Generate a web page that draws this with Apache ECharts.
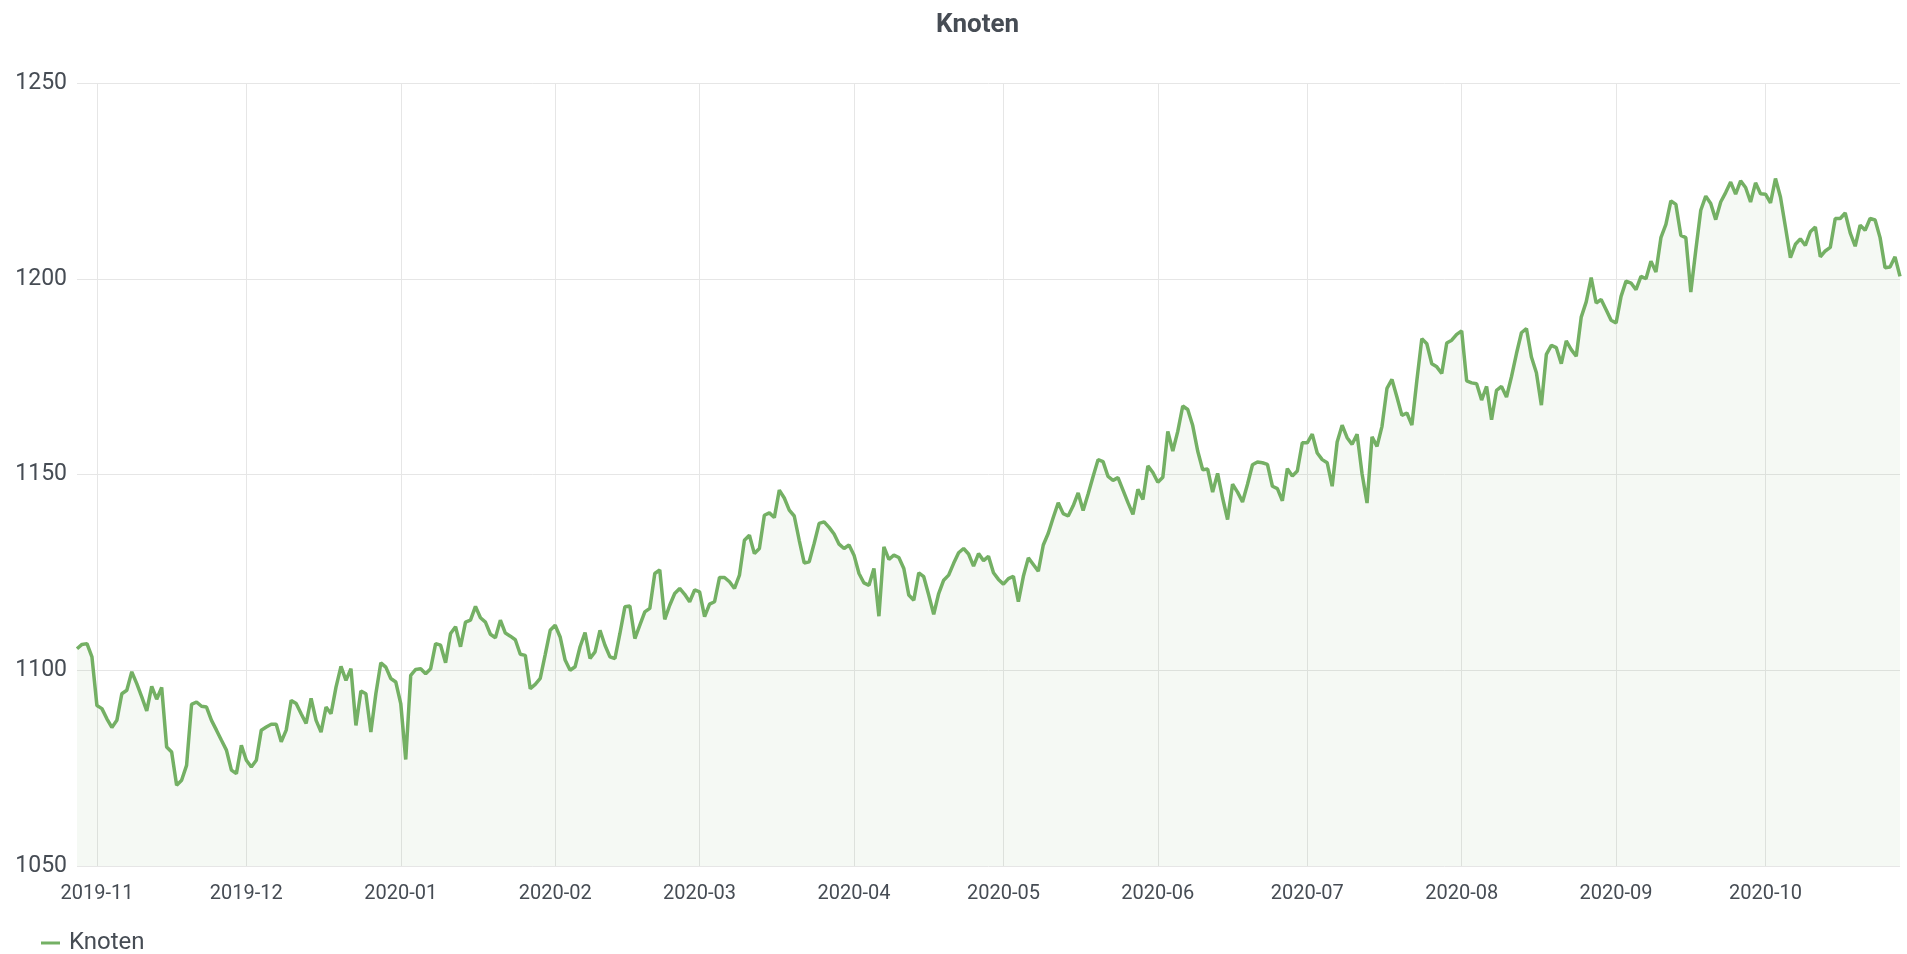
<!DOCTYPE html>
<html>
<head>
<meta charset="UTF-8">
<title>Knoten</title>
<script type="text/javascript" src="https://cdn.jsdelivr.net/npm/echarts@6/dist/echarts.min.js"></script>
<style>
  html, body { margin: 0; padding: 0; background: #fff; }
</style>
</head>
<body>
    <div id="main" style="width: 1907px;height:954px;"></div>
    <script type="text/javascript">
    // daily values, first day 2019-10-28
    var startDate = [2019, 9, 28];
    var oct2019 = [1105.5, 1106.6, 1106.8, 1103.4];
    var nov2019 = [1091, 1090.2, 1087.6, 1085.4, 1087.2, 1094, 1094.9, 1099.6, 1096.6, 1093.2,
                   1089.6, 1095.9, 1092.6, 1095.6, 1080.4, 1079.1, 1070.6, 1071.9, 1075.7, 1091.3,
                   1091.9, 1090.8, 1090.6, 1087.2, 1084.7, 1082.1, 1079.6, 1074.5, 1073.6, 1080.8];
    var dec2019 = [1077, 1075.3, 1077, 1084.7, 1085.5, 1086.2, 1086.2, 1081.7, 1084.7, 1092.3,
                   1091.5, 1088.9, 1086.4, 1092.8, 1087.2, 1084.2, 1090.6, 1088.9, 1095.7, 1101,
                   1097.4, 1100.4, 1085.9, 1094.7, 1094, 1084.2, 1094, 1101.9, 1100.8, 1097.9, 1097];
    var jan2020 = [1091.5, 1077.2, 1098.7, 1100.2, 1100.4, 1099.1, 1100.4, 1106.8, 1106.4, 1101.9,
                   1109.4, 1111.1, 1106, 1112.3, 1112.8, 1116.3, 1113.4, 1112.3, 1109.2, 1108.3,
                   1112.8, 1109.5, 1108.7, 1107.8, 1104.1, 1103.8, 1095.3, 1096.4, 1097.9, 1104, 1110.2];
    var feb2020 = [1111.5, 1108.5, 1102.6, 1100, 1100.9, 1106, 1109.6, 1103, 1104.7, 1110.2,
                   1106.4, 1103.4, 1103, 1109.4, 1116.2, 1116.4, 1108.1, 1111.5, 1114.9, 1115.8,
                   1124.7, 1125.6, 1113, 1116.6, 1119.6, 1120.9, 1119.4, 1117.5, 1120.5];
    var mar2020 = [1120, 1113.7, 1116.9, 1117.5, 1123.7, 1123.7, 1122.6, 1120.9, 1124.3, 1133.2,
                   1134.5, 1129.8, 1131.1, 1139.6, 1140.2, 1139, 1146, 1144, 1140.9, 1139.4,
                   1133.2, 1127.4, 1127.7, 1132.4, 1137.5, 1137.9, 1136.5, 1134.8, 1132.2, 1131.1, 1132];
    var apr2020 = [1129.4, 1124.7, 1122.3, 1121.7, 1126, 1113.8, 1131.5, 1128.3, 1129.4, 1128.8,
                   1126, 1119.2, 1117.9, 1124.9, 1123.9, 1119.2, 1114.3, 1119.6, 1123, 1124.3,
                   1127.3, 1130, 1131.1, 1129.7, 1126.6, 1129.8, 1128, 1129.1, 1124.9, 1123.2];
    var may2020 = [1122, 1123.4, 1124, 1117.5, 1124, 1128.7, 1127, 1125.3, 1132, 1135,
                   1139, 1142.8, 1140, 1139.4, 1142, 1145.3, 1140.8, 1145, 1149.5, 1153.8,
                   1153.3, 1149.5, 1148.5, 1149.2, 1146, 1142.8, 1139.8, 1146.2, 1143.6, 1152.2, 1150.5];
    var jun2020 = [1148, 1149.3, 1161, 1156, 1161, 1167.5, 1166.6, 1162.5, 1156, 1151.2,
                   1151.4, 1145.5, 1150.3, 1144, 1138.5, 1147.5, 1145.5, 1143, 1147.5, 1152.5,
                   1153.2, 1153, 1152.6, 1147, 1146.4, 1143.3, 1151.5, 1149.6, 1150.9, 1158.1];
    var jul2020 = [1158.1, 1160.3, 1155.5, 1153.8, 1153, 1147, 1158.3, 1162.6, 1159.4, 1157.7,
                   1160.3, 1150.2, 1142.7, 1159.6, 1157.2, 1162.3, 1172, 1174.3, 1169.8, 1165.1,
                   1165.7, 1162.6, 1174, 1184.7, 1183.4, 1178.3, 1177.5, 1175.8, 1183.6, 1184.3, 1185.8];
    var aug2020 = [1186.7, 1173.9, 1173.4, 1173.2, 1169, 1172.5, 1164, 1171.5, 1172.5, 1169.8,
                   1175, 1180.9, 1186.2, 1187.3, 1180, 1176, 1167.7, 1180.7, 1183, 1182.4,
                   1178.3, 1184.1, 1181.9, 1180.2, 1190.2, 1194.1, 1200.3, 1193.8, 1194.7, 1192.1, 1189.4];
    var sep2020 = [1188.7, 1195.5, 1199.4, 1198.9, 1197.2, 1200.6, 1200, 1204.5, 1201.7, 1210.5,
                   1213.9, 1219.9, 1219, 1211.1, 1210.5, 1196.6, 1207.3, 1217.5, 1221.1, 1219.2,
                   1215.1, 1219.6, 1222, 1224.7, 1221.6, 1225, 1223.3, 1219.6, 1224.5, 1221.7];
    var oct2020 = [1221.6, 1219.4, 1225.6, 1220.9, 1213.2, 1205.4, 1208.8, 1210.2, 1208.5, 1212,
                   1213.2, 1205.6, 1207.1, 1208, 1215.4, 1215.4, 1216.8, 1211.7, 1208.3, 1213.7,
                   1212.4, 1215.4, 1215, 1210.5, 1202.8, 1203, 1205.6, 1200.6];

    var yTicks = [1050, 1100, 1150, 1200, 1250];

    var values = [].concat(oct2019, nov2019, dec2019, jan2020, feb2020, mar2020, apr2020,
                           may2020, jun2020, jul2020, aug2020, sep2020, oct2020);
    var dates = values.map(function (v, i) {
        var d = new Date(Date.UTC(startDate[0], startDate[1], startDate[2] + i));
        return d.toISOString().slice(0, 10);
    });

    function isMonthStart(index, value) {
        return value.slice(8, 10) === '01';
    }

    var myChart = echarts.init(document.getElementById('main'));
    var option = {
        backgroundColor: '#ffffff',
        animation: false,
        title: {
            text: 'Knoten',
            left: 931,
            top: 7,
            textStyle: { fontFamily: 'Roboto', fontSize: 26, fontWeight: 'bold', color: '#464c54' }
        },
        legend: {
            data: ['Knoten'],
            left: 36,
            top: 926,
            icon: 'rect',
            itemWidth: 19,
            itemHeight: 3,
            itemGap: 10,
            textStyle: { fontFamily: 'Roboto', fontSize: 24, color: '#464c54', padding: [0, 0, 0, 4] }
        },
        grid: { left: 77, right: 7, top: 83, bottom: 88 },
        xAxis: {
            type: 'category',
            data: dates,
            boundaryGap: false,
            axisLine: { show: false },
            axisTick: { show: false },
            axisLabel: {
                interval: isMonthStart,
                formatter: function (v) { return v.slice(0, 7); },
                fontFamily: 'Roboto',
                fontSize: 20,
                color: '#464c54',
                margin: 18
            },
            splitLine: { show: true, interval: isMonthStart, lineStyle: { color: '#e6e6e6', width: 1 } }
        },
        yAxis: {
            type: 'value',
            min: yTicks[0],
            max: yTicks[yTicks.length - 1],
            interval: 50,
            axisLine: { show: false },
            axisTick: { show: false },
            axisLabel: {
                fontFamily: 'Roboto',
                fontSize: 23,
                color: '#464c54',
                margin: 10,
                formatter: function (v) { return String(v); }
            },
            splitLine: { lineStyle: { color: '#e6e6e6', width: 1 } }
        },
        series: [{
            name: 'Knoten',
            type: 'line',
            data: values,
            showSymbol: false,
            color: '#74b064',
            lineStyle: { width: 3.5, color: '#74b064' },
            areaStyle: { color: 'rgba(115,176,100,0.1)', origin: 'start' }
        }]
    };
    myChart.setOption(option);
    </script>
</body>
</html>
